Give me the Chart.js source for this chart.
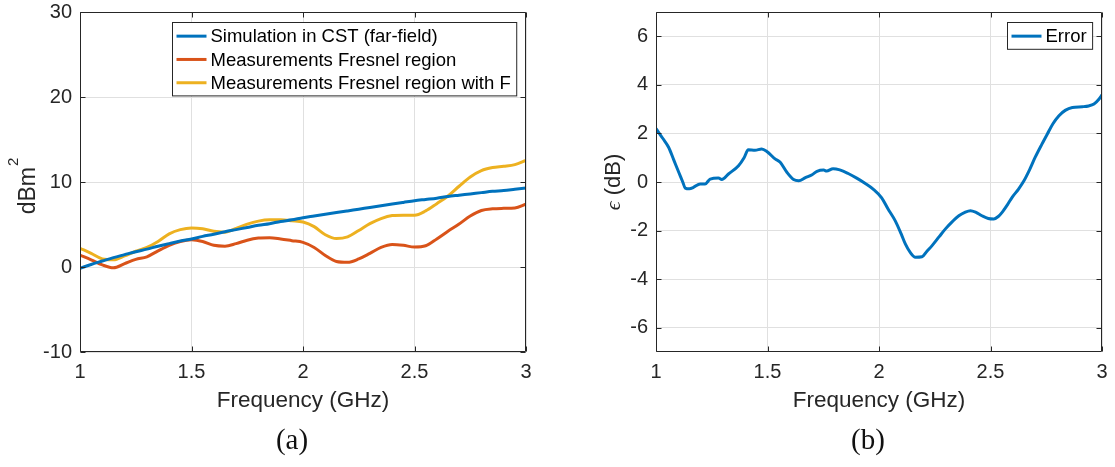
<!DOCTYPE html>
<html>
<head>
<meta charset="utf-8">
<script src="https://cdn.jsdelivr.net/npm/chart.js@4/dist/chart.umd.min.js"></script>
<style>
  html, body { margin: 0; padding: 0; background: #ffffff; }
  #wrap { position: relative; width: 1115px; height: 467px; overflow: hidden; }
  canvas { position: absolute; top: 0; }
  #cvA { left: 0; }
  #cvB { left: 560px; }
  .cap { position: absolute; top: 423px; width: 80px; text-align: center;
         font-family: "Liberation Serif", "DejaVu Serif", serif; font-size: 29px; color: #111; }
</style>
</head>
<body>
<div id="wrap">
  <canvas id="cvA" width="560" height="467"></canvas>
  <canvas id="cvB" width="555" height="467"></canvas>
  <div class="cap" style="left:252px">(a)</div>
  <div class="cap" style="left:828px">(b)</div>
</div>
<script>
// ---- data: RCS vs frequency (panel a) ----
const freqGHz = [1.00,1.05,1.10,1.15,1.20,1.25,1.30,1.35,1.40,1.45,1.50,1.55,1.60,1.65,1.70,1.75,1.80,1.85,1.90,1.95,
                 2.00,2.05,2.10,2.15,2.20,2.25,2.30,2.35,2.40,2.45,2.50,2.55,2.60,2.65,2.70,2.75,2.80,2.85,2.90,2.95,3.00];
const simCST = [-0.15,0.3,0.7,1.1,1.45,1.8,2.1,2.45,2.75,3.05,3.3,3.6,3.85,4.15,4.4,4.65,4.9,5.1,5.35,5.55,
                5.8,6.0,6.2,6.4,6.6,6.8,7.0,7.2,7.4,7.6,7.8,7.95,8.1,8.3,8.45,8.6,8.75,8.9,9.0,9.15,9.3];
const measFresnel = [1.4,0.85,0.25,-0.1,0.4,0.9,1.2,1.9,2.55,3.0,3.2,3.0,2.55,2.45,2.75,3.15,3.4,3.45,3.3,3.1,
                     2.9,2.3,1.35,0.65,0.55,0.95,1.6,2.3,2.65,2.55,2.35,2.5,3.3,4.2,5.05,6.0,6.65,6.85,6.9,6.95,7.4];
const measFresnelF = [2.2,1.6,0.95,0.85,1.3,1.85,2.3,3.0,3.9,4.4,4.6,4.5,4.2,4.1,4.55,5.05,5.4,5.55,5.55,5.45,
                      5.3,4.75,3.8,3.35,3.55,4.3,5.1,5.7,6.05,6.1,6.1,6.6,7.45,8.35,9.5,10.6,11.35,11.7,11.85,12.05,12.55];

// ---- data: error vs frequency (panel b) ----
const errFreqGHz = [1.000,1.030,1.057,1.080,1.102,1.120,1.131,1.150,1.168,1.198,1.220,1.243,1.280,1.295,1.325,1.370,1.395,
                    1.414,1.444,1.474,1.497,1.534,1.557,1.587,1.617,1.640,1.670,1.700,1.722,1.752,1.765,1.794,1.824,1.862,
                    1.900,1.937,1.975,2.012,2.040,2.073,2.100,2.118,2.140,2.163,2.193,2.215,2.238,2.270,2.298,2.330,2.358,
                    2.385,2.410,2.435,2.462,2.490,2.515,2.535,2.552,2.575,2.597,2.625,2.650,2.675,2.700,2.730,2.755,2.780,
                    2.807,2.835,2.867,2.912,2.940,2.964,2.987,3.000];
const errorDb = [2.2,1.8,1.42,0.9,0.4,0.0,-0.25,-0.28,-0.22,-0.08,-0.08,0.12,0.16,0.1,0.33,0.67,1.0,
                 1.33,1.31,1.36,1.26,0.95,0.81,0.4,0.1,0.05,0.18,0.3,0.44,0.49,0.45,0.55,0.5,0.35,
                 0.16,-0.05,-0.3,-0.65,-1.1,-1.6,-2.15,-2.55,-2.9,-3.1,-3.08,-2.85,-2.62,-2.25,-1.93,-1.62,-1.39,
                 -1.25,-1.18,-1.25,-1.39,-1.5,-1.52,-1.42,-1.25,-0.95,-0.63,-0.3,0.05,0.5,1.01,1.55,1.98,2.4,
                 2.73,2.95,3.07,3.1,3.13,3.21,3.42,3.59];

// ---- axes ----
const freqTicks = [1, 1.5, 2, 2.5, 3];
const rcsTicks = [-10, 0, 10, 20, 30];
const errTicks = [-6, -4, -2, 0, 2, 4, 6];

const SANS = '"Liberation Sans", Arial, Helvetica, sans-serif';
const INK = '#262626';
const GRID = '#e0e0e0';

function pairs(xs, ys) { return xs.map((x, i) => ({ x: x, y: ys[i] })); }

// Box, inward ticks, axis titles and legend in the style of a MATLAB axes
const matlabAxes = {
  id: 'matlabAxes',
  afterDatasetsDraw(chart, args, o) {
    const ctx = chart.ctx, a = chart.chartArea;
    const xs = chart.scales.x, ys = chart.scales.y;
    ctx.save();
    ctx.strokeStyle = INK;
    ctx.lineWidth = 1;
    ctx.beginPath();
    const L = Math.round(a.left) + 0.5, R = Math.round(a.right) - 0.5;
    const T = Math.round(a.top) + 0.5, B = Math.round(a.bottom) - 0.5;
    ctx.rect(L, T, R - L, B - T);
    const tl = 5;
    xs.ticks.forEach(t => {
      const p = Math.round(xs.getPixelForValue(t.value)) + 0.5;
      ctx.moveTo(p, B); ctx.lineTo(p, B - tl);
      ctx.moveTo(p, T); ctx.lineTo(p, T + tl);
    });
    ys.ticks.forEach(t => {
      const p = Math.round(ys.getPixelForValue(t.value)) + 0.5;
      ctx.moveTo(L, p); ctx.lineTo(L + tl, p);
      ctx.moveTo(R, p); ctx.lineTo(R - tl, p);
    });
    ctx.stroke();

    // x axis title
    ctx.fillStyle = INK;
    ctx.font = '22.5px ' + SANS;
    ctx.textAlign = 'center';
    ctx.textBaseline = 'alphabetic';
    ctx.fillText(o.xTitle, (a.left + a.right) / 2, a.bottom + 55);

    // y axis title (rotated)
    ctx.save();
    ctx.translate(a.left + o.yTitleOffset, (a.top + a.bottom) / 2 + o.yTitleShift);
    ctx.rotate(-Math.PI / 2);
    ctx.textAlign = 'left';
    const parts = o.yTitle;
    let total = 0;
    parts.forEach(p => { ctx.font = p.font; total += ctx.measureText(p.text).width + (p.gap || 0); });
    let x = -total / 2;
    parts.forEach(p => {
      ctx.font = p.font;
      x += (p.gap || 0);
      ctx.fillText(p.text, x, p.rise || 0);
      x += ctx.measureText(p.text).width;
    });
    ctx.restore();

    // legend, north-east corner
    const ds = chart.data.datasets;
    ctx.font = '18.5px ' + SANS;
    let tw = 0;
    ds.forEach(d => { tw = Math.max(tw, ctx.measureText(d.label).width); });
    const rowH = 23.3;
    const w = 4 + 30 + 4 + tw + 6;
    const h = ds.length * rowH + 3.5;
    const bx = Math.round(a.right - 9.5 - w) + 0.5;
    const by = Math.round(a.top + 9.5) + 0.5;
    ctx.fillStyle = '#ffffff';
    ctx.fillRect(bx, by, w, h);
    ctx.strokeStyle = INK;
    ctx.lineWidth = 1;
    ctx.strokeRect(bx, by, w, h);
    ctx.textBaseline = 'middle';
    ctx.textAlign = 'left';
    ds.forEach((d, i) => {
      const cy = by + 2 + rowH * (i + 0.5);
      ctx.strokeStyle = d.borderColor;
      ctx.lineWidth = 3;
      ctx.beginPath();
      ctx.moveTo(bx + 4, cy); ctx.lineTo(bx + 34, cy);
      ctx.stroke();
      ctx.fillStyle = '#000000';
      ctx.fillText(d.label, bx + 38, cy + 1);
    });
    ctx.restore();
  }
};

function makeOptions(yMin, yMax, yTicks, yWidth, padRight, extra) {
  return {
    responsive: false,
    animation: false,
    events: [],
    layout: { padding: { top: 12, right: padRight, left: 0, bottom: 0 } },
    elements: { point: { radius: 0 }, line: { borderWidth: 3, cubicInterpolationMode: 'monotone' } },
    plugins: { legend: { display: false }, tooltip: { enabled: false }, matlabAxes: extra },
    scales: {
      x: {
        type: 'linear', min: 1, max: 3,
        afterBuildTicks: s => { s.ticks = freqTicks.map(v => ({ value: v })); },
        afterFit: s => { s.height = 115; s.paddingLeft = 0; s.paddingRight = 0; },
        grid: { color: GRID, lineWidth: 1, drawTicks: false },
        border: { display: false },
        ticks: { color: INK, font: { family: SANS, size: 20 }, padding: 8, maxRotation: 0, autoSkip: false,
                 callback: v => String(v) }
      },
      y: {
        type: 'linear', min: yMin, max: yMax,
        afterBuildTicks: s => { s.ticks = yTicks.map(v => ({ value: v })); },
        afterFit: s => { s.width = yWidth; s.paddingTop = 0; s.paddingBottom = 0; },
        grid: { color: GRID, lineWidth: 1, drawTicks: false },
        border: { display: false },
        ticks: { color: INK, font: { family: SANS, size: 20 }, padding: 8, autoSkip: false,
                 callback: v => String(v) }
      }
    }
  };
}

new Chart(document.getElementById('cvA'), {
  type: 'line',
  data: {
    datasets: [
      { label: 'Simulation in CST (far-field)', data: pairs(freqGHz, simCST), borderColor: '#0072BD' },
      { label: 'Measurements Fresnel region', data: pairs(freqGHz, measFresnel), borderColor: '#D95319' },
      { label: 'Measurements Fresnel region with F', data: pairs(freqGHz, measFresnelF), borderColor: '#EDB120' }
    ]
  },
  options: makeOptions(-10, 30, rcsTicks, 80, 34, {
    xTitle: 'Frequency (GHz)',
    yTitleOffset: -45, yTitleShift: 4,
    yTitle: [
      { text: 'dBm', font: '23px ' + SANS },
      { text: '2', font: '15px ' + SANS, rise: -17, gap: 1 }
    ]
  }),
  plugins: [matlabAxes]
});

new Chart(document.getElementById('cvB'), {
  type: 'line',
  data: {
    datasets: [
      { label: 'Error', data: pairs(errFreqGHz, errorDb), borderColor: '#0072BD' }
    ]
  },
  options: makeOptions(-7, 7, errTicks, 96, 13, {
    xTitle: 'Frequency (GHz)',
    yTitleOffset: -36, yTitleShift: 0,
    yTitle: [
      { text: '\u03F5', font: 'italic 22px "Liberation Serif", "DejaVu Serif", serif' },
      { text: ' (dB)', font: '22px ' + SANS }
    ]
  }),
  plugins: [matlabAxes]
});
</script>
</body>
</html>
